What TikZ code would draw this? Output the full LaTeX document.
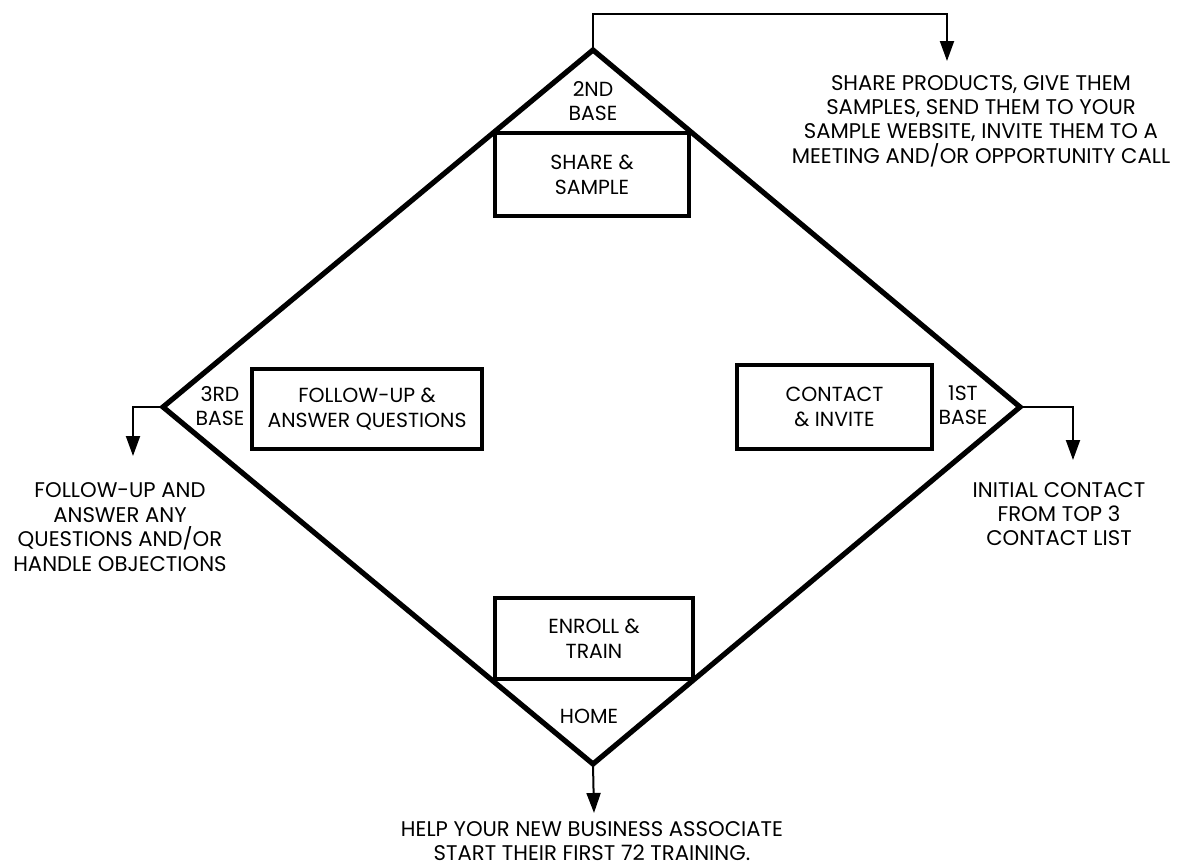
\documentclass[tikz,border=0pt]{standalone}
\usepackage{fontspec}
\setmainfont{Poppins}
\usetikzlibrary{arrows.meta}
\tikzset{
  x=0.5pt,y=-0.5pt,
  field/.style={line width=2.6pt,line join=miter},
  basebox/.style={draw,line width=2pt,align=center,inner sep=0pt,
    font=\fontsize{10.2}{12.4}\selectfont},
  baselabel/.style={align=center,inner sep=0pt,font=\fontsize{10.2}{12}\selectfont},
  note/.style={align=center,inner sep=0pt,font=\fontsize{10.6}{12.2}\selectfont},
  conn/.style={line width=1pt,-{Triangle[length=10pt,width=7pt]}}
}

\begin{document}
\begin{tikzpicture}
        \useasboundingbox (0,0) rectangle (1180,867);

        % the four bases
        \coordinate (second) at (593,50);
        \coordinate (first)  at (1020,407);
        \coordinate (home)   at (593,764);
        \coordinate (third)  at (163,407);
        \draw [field] (second) -- (first) -- (home) -- (third) -- cycle;

        \node [basebox,minimum width=97pt,minimum height=41.5pt] (share)   at (592,174.5) {SHARE \&\\SAMPLE};
        \node [basebox,minimum width=115pt,minimum height=40pt]  (follow)  at (367,409)   {FOLLOW-UP \&\\ANSWER QUESTIONS};
        \node [basebox,minimum width=97.5pt,minimum height=42pt] (contact) at (834.5,407) {CONTACT\\\& INVITE};
        \node [basebox,minimum width=99pt,minimum height=40.5pt] (enroll)  at (594,638.5) {ENROLL \&\\TRAIN};

        \node [baselabel] (secondlbl) at (593,101) {2ND\\BASE};
        \node [baselabel] (firstlbl)  at (963,405) {1ST\\BASE};
        \node [baselabel] (thirdlbl)  at (220,406) {3RD\\BASE};
        \node [baselabel] (homelbl)   at (589,716) {HOME};

        % what to do at each base
        \node [note] (sharenote)   at (981,121) {SHARE PRODUCTS, GIVE THEM\\SAMPLES, SEND THEM TO YOUR\\SAMPLE WEBSITE, INVITE THEM TO A\\MEETING AND/OR OPPORTUNITY CALL};
        \node [note] (contactnote) at (1059,514) {INITIAL CONTACT\\FROM TOP 3\\CONTACT LIST};
        \node [note] (follownote)  at (120,527) {FOLLOW-UP AND\\ANSWER ANY\\QUESTIONS AND/OR\\HANDLE OBJECTIONS};
        \node [note] (enrollnote)  at (592,841) {HELP YOUR NEW BUSINESS ASSOCIATE\\START THEIR FIRST 72 TRAINING.};

        \coordinate (secondturn) at (593,14);
        \coordinate (secondtip)  at (947,61);
        \coordinate (firstturn)  at (1073,407);
        \coordinate (firsttip)   at (1073,460);
        \coordinate (thirdturn)  at (133,407);
        \coordinate (thirdtip)   at (133,456);
        \coordinate (hometip)    at (594,813);

        \draw [conn] (second) -- (secondturn) -| (secondtip);
        \draw [conn] (first)  -- (firstturn)  -- (firsttip);
        \draw [conn] (third)  -- (thirdturn)  -- (thirdtip);
        \draw [conn] (home)   -- (hometip);
      \end{tikzpicture}
\end{document}
